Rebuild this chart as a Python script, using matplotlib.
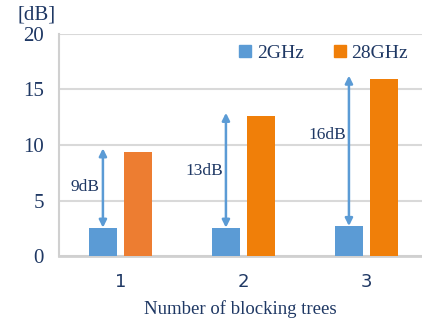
import numpy as np
import matplotlib
matplotlib.use('Agg')
import matplotlib.pyplot as plt
from matplotlib.patches import Patch

trees = ['1', '2', '3']
loss_2ghz = [2.55, 2.55, 2.7]
loss_28ghz = [9.4, 12.6, 15.95]
diff_labels = ['9dB', '13dB', '16dB']

BLUE = '#5B9BD5'
ORANGE = ['#ED7D31', '#F07F09', '#F07F09']
NAVY = '#1F3864'
SERIF = 'Liberation Serif'


def main():
    fig = plt.figure(figsize=(4.22, 3.19), dpi=100)
    ax = fig.add_axes([59 / 422, 63 / 319, 1 - 59 / 422, 222 / 319])

    x = np.arange(len(trees))
    w = 0.228
    off = 0.143
    ax.bar(x - off, loss_2ghz, w, color=BLUE, zorder=3)
    ax.bar(x + off, loss_28ghz, w, color=ORANGE, zorder=3)

    # double arrows from 2GHz bar up to the 28GHz level
    label_y = [6.2, 7.65, 10.9]
    for i in range(len(trees)):
        ax.annotate('', xy=(x[i] - off, loss_28ghz[i] + 0.3), xytext=(x[i] - off, loss_2ghz[i]),
                    arrowprops=dict(arrowstyle='<|-|>', color=BLUE, lw=1.8,
                                    mutation_scale=11, shrinkA=0, shrinkB=0), zorder=4)
        ax.text(x[i] - off - 0.025, label_y[i], diff_labels[i],
                ha='right', va='center', fontsize=12.5, family=SERIF, color=NAVY)

    ax.set_xlim(-0.5, 2.451)
    ax.set_ylim(0, 20)
    ax.set_yticks([0, 5, 10, 15, 20])
    ax.set_xticks(x)
    ax.set_xticklabels(trees, family='DejaVu Sans', fontsize=13, color=NAVY)
    for lab in ax.get_yticklabels():
        lab.set_family(SERIF)
        lab.set_fontsize(15)
        lab.set_color(NAVY)
    ax.tick_params(axis='y', length=0, pad=11)
    ax.tick_params(axis='x', length=0, pad=12)

    ax.grid(axis='y', color='#D9D9D9', lw=1.5, zorder=0)
    for s in ['top', 'right']:
        ax.spines[s].set_visible(False)
    ax.spines['left'].set_color('#D0D0D0')
    ax.spines['left'].set_linewidth(1.5)
    ax.spines['bottom'].set_color('#D0D0D0')
    ax.spines['bottom'].set_linewidth(2)

    ax.set_xlabel('Number of blocking trees', family=SERIF, fontsize=13.5, color=NAVY, labelpad=7)
    fig.text(37 / 422, 1 - 15 / 319, '[dB]', ha='center', va='center',
             family=SERIF, fontsize=15, color=NAVY)

    handles = [Patch(color=BLUE, label='2GHz'), Patch(color='#F07F09', label='28GHz')]
    ax.legend(handles=handles, ncol=2, frameon=False, loc='upper right',
              bbox_to_anchor=(1.01, 1.03), prop={'family': SERIF, 'size': 14},
              handlelength=0.6, handleheight=0.6, handletextpad=0.3, columnspacing=1.55,
              labelcolor=NAVY)

    fig.savefig('out.png', dpi=100)


if __name__ == '__main__':
    main()
